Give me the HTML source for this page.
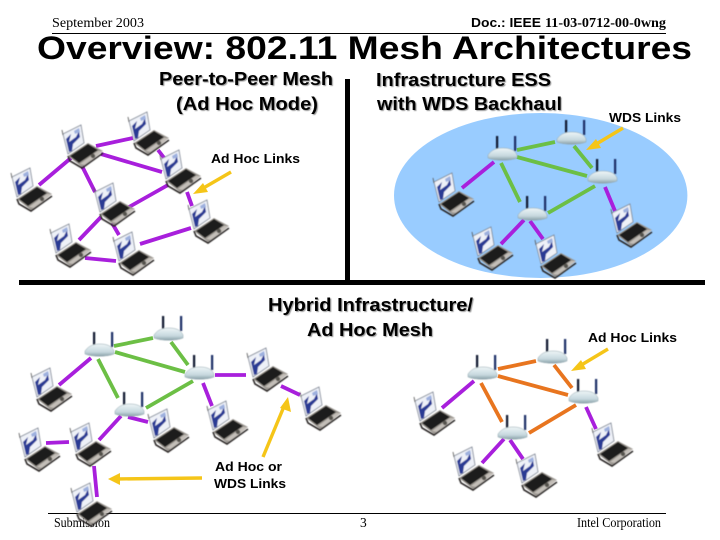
<!DOCTYPE html>
<html><head><meta charset="utf-8"><style>
html,body{margin:0;padding:0;background:#fff}
svg{display:block}
text{font-family:"Liberation Sans",sans-serif;fill:#000}
.h{font-size:18.5px;font-weight:bold;text-shadow:1px 1px 1px #999}
.l{font-size:13px;font-weight:bold}
.s{font-family:"Liberation Serif",serif;font-size:13.5px}
.p{stroke:#a81fdc;stroke-width:3.8;fill:none}
.g{stroke:#6cbf45;stroke-width:3.8;fill:none}
.o{stroke:#e8751f;stroke-width:3.8;fill:none}
.y{stroke:#f5c518;stroke-width:3.4;fill:none}
.af{fill:#f5c518}
</style></head><body>
<svg width="720" height="540" viewBox="0 0 720 540" xmlns="http://www.w3.org/2000/svg">
<defs>
<linearGradient id="ab" x1="0" y1="0" x2="0" y2="1"><stop offset="0" stop-color="#eef5f7"/><stop offset=".65" stop-color="#c6d8de"/><stop offset="1" stop-color="#8aa0a8"/></linearGradient>
<filter id="b" x="-10%" y="-10%" width="120%" height="120%"><feGaussianBlur stdDeviation=".4"/></filter>
<g id="lap" filter="url(#b)">
<polygon points="0,9 18,0 21,18 5,29" fill="#eef1f8" stroke="#7a8290" stroke-width=".8"/>
<path d="M3,14 L8,9 L6,17 L13,12 L16,6 L17,12 L10,19 L9,26 L6,27 Z" fill="#2a3a94"/>
<path d="M11,6 L16,3 L17,7 L12,9 Z" fill="#9db0de"/>
<line x1="-1" y1="5" x2="0" y2="10" stroke="#555" stroke-width=".8"/>
<polygon points="5,31 25,18 40,26 19,42" fill="#9a958f"/>
<polygon points="7,31 25,19 35,25 16,38" fill="#1e1e1b"/>
<polygon points="17,39 35,26 40,26 23,40" fill="#c3beb8"/>
<circle cx="30" cy="31" r="2.2" fill="#55524d"/>
<path d="M5,31 L7,36 L19,43 L40,28" fill="none" stroke="#2a2826" stroke-width="1.6"/>
</g>
<g id="ap" filter="url(#b)">
<rect x="8" y="0" width="2.2" height="15" fill="#10162e"/>
<rect x="26" y="0" width="2.2" height="15" fill="#1d2d66"/>
<path d="M0,19 C4,13 10,12 15,12 C22,12 27,14 29,19 L29,22 C22,25 7,25 0,22 Z" fill="url(#ab)" stroke="#8fa5ad" stroke-width=".5"/>
</g>
</defs>
<rect width="720" height="540" fill="#fff"/>

<ellipse cx="540.7" cy="195.5" rx="146.7" ry="82.5" fill="#99ccff"/>
<rect x="345" y="79" width="5" height="203" fill="#000"/>
<rect x="19" y="280" width="686" height="5" fill="#000"/>

<text class="s" x="52" y="27" textLength="92" lengthAdjust="spacingAndGlyphs">September 2003</text>
<text x="471" y="27" font-size="12.5" font-weight="bold" textLength="70" lengthAdjust="spacingAndGlyphs">Doc.: IEEE</text>
<text class="s" x="545" y="27" font-weight="bold" textLength="121" lengthAdjust="spacingAndGlyphs">11-03-0712-00-0wng</text>
<rect x="52" y="33" width="614" height="1" fill="#000"/>
<text x="37" y="59" font-size="32" font-weight="bold" textLength="655" lengthAdjust="spacingAndGlyphs">Overview: 802.11 Mesh Architectures</text>
<rect x="48" y="513" width="618" height="1" fill="#000"/>
<text class="s" x="54" y="527" textLength="56" lengthAdjust="spacingAndGlyphs">Submission</text>
<text class="s" x="360" y="527">3</text>
<text class="s" x="577" y="527" textLength="84" lengthAdjust="spacingAndGlyphs">Intel Corporation</text>

<text class="h" x="159" y="85" textLength="174" lengthAdjust="spacingAndGlyphs">Peer-to-Peer Mesh</text>
<text class="h" x="176" y="110" textLength="142" lengthAdjust="spacingAndGlyphs">(Ad Hoc Mode)</text>
<text class="h" x="376" y="86" textLength="175" lengthAdjust="spacingAndGlyphs">Infrastructure ESS</text>
<text class="h" x="377" y="110" textLength="185" lengthAdjust="spacingAndGlyphs">with WDS Backhaul</text>
<text class="h" x="268" y="311" textLength="205" lengthAdjust="spacingAndGlyphs">Hybrid Infrastructure/</text>
<text class="h" x="307" y="336" textLength="126" lengthAdjust="spacingAndGlyphs">Ad Hoc Mesh</text>
<text class="l" x="211" y="163" textLength="89" lengthAdjust="spacingAndGlyphs">Ad Hoc Links</text>
<text class="l" x="609" y="122" textLength="72" lengthAdjust="spacingAndGlyphs">WDS Links</text>
<text class="l" x="588" y="342" textLength="89" lengthAdjust="spacingAndGlyphs">Ad Hoc Links</text>
<text class="l" x="215" y="471" textLength="67" lengthAdjust="spacingAndGlyphs">Ad Hoc or</text>
<text class="l" x="214" y="488" textLength="72" lengthAdjust="spacingAndGlyphs">WDS Links</text>

<path class="p" d="M39,185 L71,158M96,146 L133,138M101,154 L162,172M82,166 L95,192M158,150 L165,159M129,207 L168,185M187,192 L192,206M79,240 L101,217M112,223 L119,235M140,244 L191,228M85,258 L116,261"/>
<path class="g" d="M517,150 L555,142M574,146 L592,168M517,157 L587,176M501,163 L520,202M548,213 L595,186"/>
<path class="p" d="M462,188 L494,162M605,187 L615,211M501,244 L524,220M530,221 L543,239"/>
<path class="g" d="M114,346 L153,338M171,342 L188,365M115,352 L185,372M98,359 L118,398M146,408 L193,381"/>
<path class="p" d="M59,385 L91,358M215,375 L246,375M281,386 L300,395M203,383 L212,406M128,417 L148,422M99,440 L121,416M46,443 L69,442M94,466 L97,497"/>
<path class="o" d="M498,369 L536,361M554,365 L572,388M498,376 L568,395M481,383 L502,422M529,433 L576,405"/>
<path class="p" d="M442,408 L474,381M586,407 L596,429M482,463 L504,439M510,440 L523,459"/>

<path class="y" d="M231,172 L200,190"/><polygon class="af" points="193,194 203,183 208,192"/>
<path class="y" d="M623,128 L593,146"/><polygon class="af" points="586,150 596,139 601,148"/>
<path class="y" d="M608,349 L578,367"/><polygon class="af" points="571,371 581,360 586,369"/>
<path class="y" d="M263,457 L285,404"/><polygon class="af" points="288,397 291,412 280,408"/>
<path class="y" d="M202,478 L116,479"/><polygon class="af" points="108,479 120,473 120,485"/>

<use href="#lap" x="12" y="168"/><use href="#lap" x="63" y="125"/><use href="#lap" x="129" y="112"/><use href="#lap" x="161" y="150"/>
<use href="#lap" x="95" y="183"/><use href="#lap" x="189" y="200"/><use href="#lap" x="51" y="224"/><use href="#lap" x="114" y="232"/>
<use href="#lap" x="434" y="173"/><use href="#lap" x="473" y="227"/><use href="#lap" x="536" y="235"/><use href="#lap" x="612" y="204"/>
<use href="#lap" x="32" y="368"/><use href="#lap" x="248" y="348"/><use href="#lap" x="301" y="387"/><use href="#lap" x="208" y="401"/>
<use href="#lap" x="149" y="409"/><use href="#lap" x="71" y="423"/><use href="#lap" x="20" y="428"/><use href="#lap" x="72" y="483"/>
<use href="#lap" x="415" y="392"/><use href="#lap" x="454" y="447"/><use href="#lap" x="517" y="454"/><use href="#lap" x="593" y="423"/>

<use href="#ap" x="488" y="136"/><use href="#ap" x="557" y="120"/><use href="#ap" x="588" y="159"/><use href="#ap" x="518" y="196"/>
<use href="#ap" x="85" y="332"/><use href="#ap" x="154" y="316"/><use href="#ap" x="185" y="355"/><use href="#ap" x="115" y="392"/>
<use href="#ap" x="468" y="355"/><use href="#ap" x="538" y="339"/><use href="#ap" x="569" y="379"/><use href="#ap" x="498" y="415"/>
</svg>
</body></html>
